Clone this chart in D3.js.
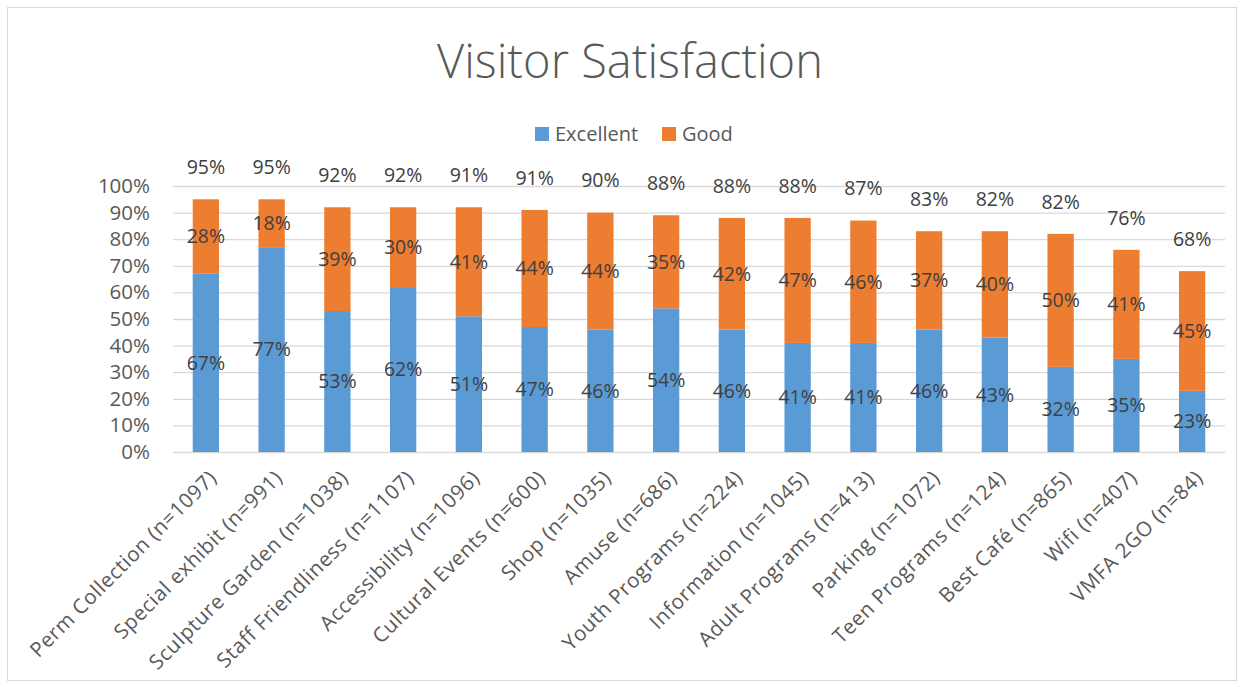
<!DOCTYPE html>
<html>
<head>
<meta charset="utf-8">
<script src="https://cdn.jsdelivr.net/npm/d3@7"></script>
<style>
  body { margin: 0; background: #fff; }
  svg { display: block; font-family: "Open Sans", "Noto Sans", sans-serif; }
</style>
</head>
<body>
<div id="chart"></div>
<script>
// chart data
var categories = ["Perm Collection (n=1097)", "Special exhibit (n=991)", "Sculpture Garden (n=1038)",
    "Staff Friendliness (n=1107)", "Accessibility (n=1096)", "Cultural Events (n=600)", "Shop (n=1035)",
    "Amuse (n=686)", "Youth Programs (n=224)", "Information (n=1045)", "Adult Programs (n=413)",
    "Parking (n=1072)", "Teen Programs (n=124)", "Best Café (n=865)", "Wifi (n=407)", "VMFA 2GO (n=84)"];
var excellent = [67, 77, 53, 62, 51, 47, 46, 54, 46, 41, 41, 46, 43, 32, 35, 23];
var good = [28, 18, 39, 30, 41, 44, 44, 35, 42, 47, 46, 37, 40, 50, 41, 45];
var totals = [95, 95, 92, 92, 91, 91, 90, 88, 88, 88, 87, 83, 82, 82, 76, 68];
var seriesNames = ["Excellent", "Good"];
var yTicks = [0, 10, 20, 30, 40, 50, 60, 70, 80, 90, 100];

var width = 1243, height = 687;
var colors = {Excellent: "#5B9BD5", Good: "#ED7D31"};

var svg = d3.select("#chart").append("svg")
    .attr("width", width)
    .attr("height", height);

// outer chart frame
svg.append("rect")
    .attr("x", 7.5).attr("y", 7.5)
    .attr("width", 1229).attr("height", 673)
    .attr("fill", "#fff")
    .attr("stroke", "#D9D9D9");

var x = d3.scaleBand()
    .domain(categories)
    .range([173, 1225])
    .paddingInner(0.6)
    .paddingOuter(0.3);

var y = d3.scaleLinear()
    .domain([0, 100])
    .range([452, 186]);

// title
svg.append("text")
    .attr("x", 630).attr("y", 78)
    .attr("text-anchor", "middle")
    .attr("fill", "#595959")
    .style("font-size", "47px")
    .style("font-weight", 300)
    .text("Visitor Satisfaction");

// legend
var legend = svg.append("g");
var legendX = [535, 662];
seriesNames.forEach(function (name, i) {
    legend.append("rect")
        .attr("x", legendX[i]).attr("y", 127)
        .attr("width", 14).attr("height", 14)
        .attr("fill", colors[name]);
    legend.append("text")
        .attr("x", legendX[i] + 20).attr("y", 134)
        .attr("dy", "0.35em")
        .attr("fill", "#595959")
        .style("font-size", "20px")
        .text(name);
});

// gridlines + y labels
var yAxis = d3.axisLeft(y)
    .tickValues(yTicks)
    .tickSize(-(1225 - 173))
    .tickPadding(23)
    .tickFormat(function (d) { return d + "%"; });

var yg = svg.append("g")
    .attr("transform", "translate(173,0)")
    .call(yAxis);
yg.select(".domain").remove();
yg.selectAll(".tick line").attr("stroke", "#D9D9D9").attr("stroke-width", 1.3);
yg.selectAll(".tick text")
    .attr("fill", "#595959")
    .style("font-size", "20.5px")
    .style("font-family", "\"Open Sans\", sans-serif");

// stacked bars
var rows = categories.map(function (c, i) {
    return {cat: c, Excellent: excellent[i], Good: good[i], total: totals[i]};
});
var stack = d3.stack().keys(seriesNames)(rows);

var layers = svg.selectAll(".layer")
    .data(stack)
    .enter().append("g")
    .attr("class", "layer")
    .attr("fill", function (d) { return colors[d.key]; });

layers.selectAll("rect")
    .data(function (d) { return d; })
    .enter().append("rect")
    .attr("x", function (d) { return x(d.data.cat); })
    .attr("y", function (d) { return y(d[1]); })
    .attr("width", x.bandwidth())
    .attr("height", function (d) { return y(d[0]) - y(d[1]); });

// segment labels
layers.selectAll("text")
    .data(function (d) { return d.map(function (p) { return {p: p, key: d.key}; }); })
    .enter().append("text")
    .attr("x", function (d) { return x(d.p.data.cat) + x.bandwidth() / 2; })
    .attr("y", function (d) { return (y(d.p[0]) + y(d.p[1])) / 2; })
    .attr("dy", "0.35em")
    .attr("text-anchor", "middle")
    .attr("fill", "#404040")
    .style("font-size", "19.5px")
    .text(function (d) { return d.p.data[d.key] + "%"; });

// total labels above bars
svg.selectAll(".total")
    .data(rows)
    .enter().append("text")
    .attr("class", "total")
    .attr("x", function (d) { return x(d.cat) + x.bandwidth() / 2; })
    .attr("y", function (d) { return y(d.Excellent + d.Good) - 32; })
    .attr("dy", "0.35em")
    .attr("text-anchor", "middle")
    .attr("fill", "#404040")
    .style("font-size", "19.5px")
    .text(function (d) { return d.total + "%"; });

// x labels, rotated
svg.selectAll(".xlabel")
    .data(categories)
    .enter().append("text")
    .attr("class", "xlabel")
    .attr("text-anchor", "end")
    .attr("fill", "#595959")
    .style("font-size", "20.5px")
    .style("letter-spacing", "0.6px")
    .attr("transform", function (d) {
        return "translate(" + (x(d) + x.bandwidth() / 2 + 12) + ",479) rotate(-45)";
    })
    .text(function (d) { return d; });
</script>
</body>
</html>
